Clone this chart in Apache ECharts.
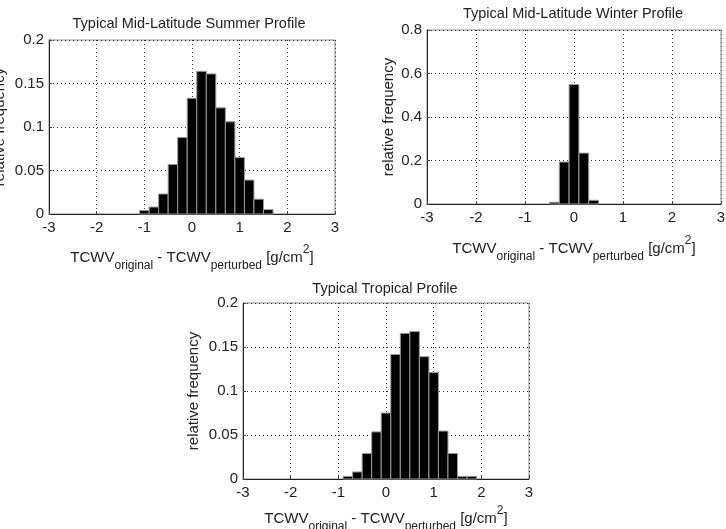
<!DOCTYPE html>
<html>
<head>
<meta charset="utf-8">
<script src="https://cdn.jsdelivr.net/npm/echarts@6/dist/echarts.min.js"></script>
<style>
  body { margin: 0; background: #fff; }
  #main { width: 726px; height: 529px; }
</style>
</head>
<body>
<div id="main"></div>
<script>
// histogram bin centres and relative frequencies
var binWidth = 0.2;

var summerCenters = [-1.0, -0.8, -0.6, -0.4, -0.2, 0.0, 0.2, 0.4, 0.6, 0.8, 1.0, 1.2, 1.4, 1.6];
var summerFreq = [0.004, 0.008, 0.023, 0.057, 0.088, 0.133, 0.164, 0.161, 0.122, 0.106, 0.065, 0.039, 0.017, 0.005];

var winterCenters = [-0.4, -0.2, 0.0, 0.2, 0.4];
var winterFreq = [0.008, 0.193, 0.549, 0.234, 0.017];

var tropicalCenters = [-0.8, -0.6, -0.4, -0.2, 0.0, 0.2, 0.4, 0.6, 0.8, 1.0, 1.2, 1.4, 1.6, 1.8];
var tropicalFreq = [0.003, 0.008, 0.029, 0.0535, 0.075, 0.1415, 0.1655, 0.1675, 0.139, 0.121, 0.0545, 0.029, 0.003, 0.003];

var titles = ["Typical Mid-Latitude Summer Profile", "Typical Mid-Latitude Winter Profile", "Typical Tropical Profile"];
var yLabel = "relative frequency";

var font = "Liberation Sans, Arial, sans-serif";

function pairs(xs, ys) {
  return xs.map(function (x, i) { return [x, ys[i]]; });
}

function renderBar(params, api) {
  var x = api.value(0);
  var y = api.value(1);
  var p0 = api.coord([x - binWidth / 2, y]);
  var p1 = api.coord([x + binWidth / 2, 0]);
  return {
    type: "rect",
    shape: { x: p0[0], y: p0[1], width: p1[0] - p0[0], height: p1[1] - p0[1] },
    style: { fill: "#000", stroke: "#999", lineWidth: 1 }
  };
}

var xName = "{a|TCWV}{s|original}{a| - TCWV}{s|perturbed}{a| [g/cm}{p|2}{a|]}";
var xNameStyle = {
  rich: {
    a: { fontSize: 15, fontFamily: font, color: "#222", lineHeight: 28, verticalAlign: "middle" },
    s: { fontSize: 12, fontFamily: font, color: "#222", lineHeight: 12, verticalAlign: "bottom" },
    p: { fontSize: 12, fontFamily: font, color: "#222", lineHeight: 12, verticalAlign: "top" }
  }
};

function xAxisOf(idx, gap) {
  return {
    gridIndex: idx, type: "value", min: -3, max: 3, interval: 1,
    name: xName, nameLocation: "middle", nameGap: gap, nameTextStyle: xNameStyle,
    axisLine: { show: true, onZero: false, lineStyle: { color: "#222", width: 1 } },
    axisTick: { show: true, inside: true, length: 3, lineStyle: { color: "#444" } },
    axisLabel: { fontSize: 15, fontFamily: font, color: "#222", margin: 6 },
    splitLine: { show: true, lineStyle: { color: "#333", type: [1, 3], width: 1 } }
  };
}

function yAxisOf(idx, max, interval, gap) {
  return {
    gridIndex: idx, type: "value", min: 0, max: max, interval: interval,
    name: yLabel, nameLocation: "middle", nameGap: gap,
    nameTextStyle: { fontSize: 15, fontFamily: font, color: "#222" },
    axisLine: { show: true, onZero: false, lineStyle: { color: "#222", width: 1 } },
    axisTick: { show: true, inside: true, length: 3, lineStyle: { color: "#444" } },
    axisLabel: { fontSize: 15, fontFamily: font, color: "#222", margin: 5 },
    splitLine: { show: true, lineStyle: { color: "#333", type: [1, 3], width: 1 } }
  };
}

function titleOf(text, cx, top) {
  return {
    text: text, left: cx, top: top, textAlign: "center", padding: 0,
    textStyle: { fontSize: 14.5, fontWeight: "normal", fontFamily: font, color: "#222" }
  };
}

var gridStyle = { show: true, borderColor: "#888", borderWidth: 1, backgroundColor: "#fff", outerBoundsMode: "none" };

var chart = echarts.init(document.getElementById("main"));
var option = {
  animation: false,
  backgroundColor: "#fff",
  title: [
    titleOf(titles[0], 189, 16),
    titleOf(titles[1], 573, 6),
    titleOf(titles[2], 385, 281)
  ],
  grid: [
    Object.assign({ left: 49, top: 40, width: 286, height: 174 }, gridStyle),
    Object.assign({ left: 427, top: 30, width: 294, height: 174 }, gridStyle),
    Object.assign({ left: 243, top: 303, width: 286, height: 176 }, gridStyle)
  ],
  xAxis: [xAxisOf(0, 30), xAxisOf(1, 31), xAxisOf(2, 26)],
  yAxis: [yAxisOf(0, 0.2, 0.05, 42), yAxisOf(1, 0.8, 0.2, 31), yAxisOf(2, 0.2, 0.05, 42)],
  series: [
    { type: "custom", xAxisIndex: 0, yAxisIndex: 0, renderItem: renderBar, encode: { x: 0, y: 1 }, data: pairs(summerCenters, summerFreq) },
    { type: "custom", xAxisIndex: 1, yAxisIndex: 1, renderItem: renderBar, encode: { x: 0, y: 1 }, data: pairs(winterCenters, winterFreq) },
    { type: "custom", xAxisIndex: 2, yAxisIndex: 2, renderItem: renderBar, encode: { x: 0, y: 1 }, data: pairs(tropicalCenters, tropicalFreq) }
  ]
};
option && chart.setOption(option);
</script>
</body>
</html>
